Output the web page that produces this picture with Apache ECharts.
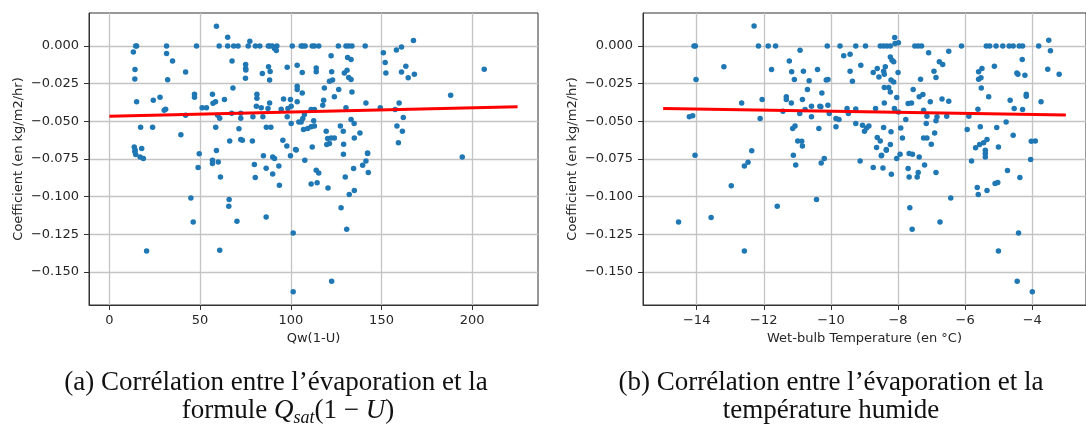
<!DOCTYPE html>
<html><head><meta charset="utf-8">
<script src="https://cdn.jsdelivr.net/npm/echarts@6/dist/echarts.min.js"></script>
<style>html,body{margin:0;padding:0;background:#fff}#c{width:1086px;height:430px}</style>
</head><body><div id="c"></div>
<script>
// (a) Qw(1-U) vs coefficient
const ptsQw = [
[13.2,-0.004],[14.5,0],[15.0,0],[14.1,-0.0157],[14.0,-0.022],[15.0,-0.037],[17.2,-0.054],[23.8,-0.054],[13.7,-0.067],[14.0,-0.070],[17.8,-0.068],
[31.5,0],[31.5,-0.005],[34.8,-0.010],[32.1,-0.0225],[42.0,-0.0174],[27.9,-0.034],[24.2,-0.036],[30.2,-0.0426],[31.0,-0.042],[42.0,-0.046],[39.4,-0.059],
[48.0,0],[46.9,-0.032],[46.9,-0.034],[51.1,-0.041],[53.5,-0.041],
[59.0,0.013],[65.2,0.0058],[60.5,0],[65.2,0],[68.5,0],[70.9,0],[76.5,0],[77.4,0.003],[80.5,0],[82.9,0],
[67.6,-0.010],[75.1,-0.0124],[75.1,-0.015],[75.2,-0.016],[75.0,-0.0215],[68.1,-0.028],[56.8,-0.032],[57.1,-0.038],[58.5,-0.037],[63.4,-0.0355],
[59.7,-0.046],[60.8,-0.048],[67.4,-0.0447],[72.4,-0.0447],[72.4,-0.048],[58.6,-0.054],[71.4,-0.055],[66.3,-0.063],[72.4,-0.062],[73.3,-0.0625],[78.8,-0.063],
[79.1,-0.047],[81.3,-0.0347],[81.3,-0.032],[81.0,-0.040],[83.7,-0.041],[84.6,-0.047],
[87.6,0],[92.3,0],[92.0,-0.003],[87.7,-0.0139],[88.6,-0.017],[88.3,-0.0227],[86.5,-0.054],[89.0,-0.054],
[14.2,-0.069],[14.5,-0.072],[16.9,-0.0736],[18.7,-0.0747],[49.5,-0.0716],[48.9,-0.0807],[56.8,-0.0758],[56.8,-0.078],[59.0,-0.0694],[60.0,-0.077],[61.2,-0.0869],[44.9,-0.1008],[46.2,-0.1167],[20.5,-0.136],[66.0,-0.1019],[65.8,-0.1063],[70.3,-0.1163],[60.8,-0.1355],[79.9,-0.0787],[80.4,-0.0873],[84.9,-0.0729],[86.4,-0.0811],[86.4,-0.1134],[90.0,-0.0736],[91.0,-0.0747],[90.0,-0.085],[93.4,-0.0796],[93.7,-0.0924],
[99.8,-0.0729],[103.0,-0.069],[107.7,-0.0758],[114.0,-0.0824],[115.4,-0.0842],[111.2,-0.0915],[114.5,-0.0908],[120.5,-0.0942],[129.0,-0.0718],[130.0,-0.0869],[127.7,-0.1074],[130.8,-0.1216],[132.2,-0.0985],[135.0,-0.0959],[134.6,-0.0813],[139.6,-0.0791],[141.4,-0.0763],[142.3,-0.0714],[142.7,-0.084],[194.5,-0.0736],[101.3,-0.124],[122.5,-0.156],[101.3,-0.163],
[88.3,0],[89.8,0],[91.0,-0.0017],
[100.8,0],[105.7,0],[106.6,0],[107.9,0],[111.8,0],[113.0,0],[115.4,0],[126.2,0],[130.4,0],[131.9,0],[133.7,0],[141.0,0],
[122.2,-0.0066],[131.3,-0.0077],[133.2,-0.009],[151.0,-0.0046],[158.2,-0.0028],[161.0,-0.0007],[167.6,0.0036],[152.0,-0.011],[152.4,-0.0179],[163.4,-0.0135],[161.0,-0.0174],[164.7,-0.0212],[168.1,-0.0188],[206.6,-0.0155],[188.1,-0.0327],
[84.3,-0.0183],[98.0,-0.0141],[103.5,-0.0128],[106.3,-0.0177],[114.0,-0.0146],[114.0,-0.0172],[122.5,-0.0172],[123.0,-0.0227],[121.3,-0.0234],[129.5,-0.0179],[131.0,-0.0161],[131.9,-0.021],[133.2,-0.0223],
[103.5,-0.0267],[103.5,-0.029],[106.3,-0.0312],[118.5,-0.0279],[126.4,-0.029],[124.0,-0.0338],[133.7,-0.0305],
[96.0,-0.0353],[99.8,-0.0356],[103.5,-0.0371],[118.1,-0.036],[117.6,-0.0393],[141.4,-0.0378],[159.7,-0.0378],[88.3,-0.0378],[87.4,-0.0415],
[94.7,-0.042],[98.4,-0.0415],[100.2,-0.040],[111.2,-0.0422],[113.0,-0.0422],[130.4,-0.0411],[149.3,-0.0411],[157.5,-0.0422],
[98.0,-0.047],[107.5,-0.0455],[106.6,-0.0481],[105.7,-0.0504],[112.6,-0.0497],[100.2,-0.0515],[104.4,-0.0504],[162.0,-0.0475],[133.2,-0.0488],[134.9,-0.0515],
[107.0,-0.0554],[109.3,-0.0548],[111.2,-0.0537],[113.0,-0.0532],[119.5,-0.0566],[127.3,-0.0532],[128.9,-0.0566],[138.1,-0.0577],[135.0,-0.061],[158.5,-0.0532],[161.5,-0.0566],[159.3,-0.0643],
[95.6,-0.0625],[97.8,-0.0663],[102.6,-0.0687],[111.8,-0.067],[120.3,-0.0614],[121.3,-0.0647],[119.8,-0.0654],[122.2,-0.061],[124.0,-0.061],[129.1,-0.0652],[142.3,-0.071]
];
// (b) wet-bulb temperature vs coefficient
const ptsWb = [
[-12.29,0.0131],[-14.08,0],[-14.04,0],[-14.02,-0.0223],[-13.19,-0.0139],[-14.22,-0.047],[-14.12,-0.0464],[-14.05,-0.0725],[-12.66,-0.0378],[-12.05,-0.0355],[-12.11,-0.0481],[-12.36,-0.0696],
[-12.16,0],[-11.87,0],[-11.65,0],[-11.77,-0.0157],[-11.24,-0.0101],[-10.92,-0.0029],[-11.17,-0.0172],[-11.09,-0.0223],[-10.82,-0.0168],[-10.4,-0.0157],[-10.65,-0.0232],[-10.7,-0.0289],[-10.27,-0.0312],
[-11.33,-0.0338],[-11.33,-0.0355],[-11.18,-0.0378],[-10.85,-0.0355],[-10.77,-0.0422],[-10.58,-0.040],[-10.33,-0.040],[-11.43,-0.0433],[-10.93,-0.0448],[-10.58,-0.047],[-10.11,0],[-10.14,-0.0227],
[-10.36,-0.0548],[-11.14,-0.0548],[-11.07,-0.0532],[-10.99,-0.063],[-10.87,-0.0632],[-10.85,-0.0663],[-11.12,-0.0725],[-10.2,-0.0747],
[-12.58,-0.0796],[-12.47,-0.0771],[-12.97,-0.0928],[-14.54,-0.1167],[-13.57,-0.1138],[-12.58,-0.136],[-11.6,-0.1063],[-11.05,-0.0789],[-10.43,-0.1019],[-10.29,-0.0776],
[-9.13,-0.0763],[-8.74,-0.0807],[-8.45,-0.0809],[-8.5,-0.0729],[-8.35,-0.0692],[-8.2,-0.0851],[-8.04,-0.0747],[-7.94,-0.0718],[-7.67,-0.0714],[-7.57,-0.0718],[-7.37,-0.0736],[-7.7,-0.0813],[-7.67,-0.0869],[-7.4,-0.084],[-7.43,-0.0869],[-7.21,-0.0789],[-6.87,-0.084],[-7.65,-0.1074],[-7.58,-0.1216],[-6.75,-0.1167],[-6.43,-0.1008],[-5.81,-0.0763],[-5.4,-0.0692],[-5.4,-0.0714],[-5.4,-0.0736],[-5.64,-0.0939],[-5.61,-0.0985],[-5.35,-0.0959],[-5.11,-0.0912],[-5.03,-0.0906],[-4.74,-0.0826],[-4.37,-0.0873],[-4.05,-0.0753],[-5.01,-0.136],[-4.41,-0.124],[-4.45,-0.156],[-4.0,-0.163],
[-9.73,0],[-9.26,0],[-8.97,0],[-8.53,0],[-8.43,0],[-8.33,0],[-8.23,0],[-8.09,0.0015],[-7.99,0.002],[-8.1,0.0056],[-7.5,0],[-7.4,0],[-7.3,0],[-7.09,-0.0046],[-6.49,-0.0035],[-6.11,0],
[-5.37,0],[-5.27,0],[-5.08,0],[-4.88,0],[-4.69,0],[-4.57,0],[-4.39,0],[-4.29,0],[-3.81,0],[-3.51,0.0038],[-3.46,-0.0033],[-4.3,-0.009],[-3.54,-0.0155],[-3.2,-0.0188],
[-9.62,-0.0066],[-9.43,-0.0055],[-9.11,-0.0128],[-9.43,-0.0168],[-9.36,-0.0234],[-10.09,-0.0223],
[-8.74,-0.0177],[-8.62,-0.015],[-8.57,-0.0206],[-8.43,-0.0168],[-8.38,-0.0139],[-8.41,-0.0188],[-8.23,-0.0073],[-8.18,-0.0095],[-8.13,-0.0106],[-8.0,-0.0177],[-8.21,-0.0227],[-8.13,-0.0239],
[-8.41,-0.0276],[-8.28,-0.0276],[-8.23,-0.0305],[-8.04,-0.0342],[-8.41,-0.0378],[-8.67,-0.0415],[-8.11,-0.0415],[-7.99,-0.0438],
[-7.55,-0.0289],[-7.33,-0.0221],[-7.37,-0.0338],[-7.26,-0.0322],[-7.7,-0.0382],[-7.6,-0.0378],[-7.24,-0.0426],[-7.14,-0.0466],[-7.04,-0.0371],[-6.93,-0.0168],[-6.87,-0.021],[-6.77,-0.0106],[-6.67,-0.0124],[-6.69,-0.0353],[-6.49,-0.0367],[-6.84,-0.047],[-6.87,-0.0497],[-6.55,-0.0466],
[-7.77,-0.0488],[-7.16,-0.0515],[-7.92,-0.0544],[-8.43,-0.0541],[-8.21,-0.057],[-7.87,-0.061],[-7.24,-0.061],[-7.14,-0.061],[-6.91,-0.0577],[-7.01,-0.0652],[-8.23,-0.0654],[-8.35,-0.0687],[-8.62,-0.0608],[-8.53,-0.063],[-8.64,-0.0674],[-8.49,-0.0725],
[-9.06,-0.0526],[-8.94,-0.0544],[-8.87,-0.0532],[-9.0,-0.0566],[-9.26,-0.0515],[-9.52,-0.0415],[-9.48,-0.0448],[-9.26,-0.0418],[-9.85,-0.0481],[-9.76,-0.0488],[-9.85,-0.0537],[-10.09,-0.0393],[-10.05,-0.0448],[-10.3,-0.0404],
[-5.6,-0.0172],[-5.5,-0.015],[-5.6,-0.0221],[-5.53,-0.0212],[-5.13,-0.0135],[-5.52,-0.0279],[-5.3,-0.0338],[-5.62,-0.042],[-5.89,-0.0466],[-5.94,-0.0554],[-5.55,-0.0537],[-5.69,-0.0676],[-5.57,-0.0654],[-5.45,-0.0643],[-5.35,-0.0621],[-5.06,-0.0541],[-5.01,-0.067],[-4.78,-0.0504],[-4.66,-0.036],[-4.54,-0.0415],[-4.29,-0.0422],[-4.18,-0.032],[-4.18,-0.0334],[-4.46,-0.0179],[-4.22,-0.0194],[-4.57,-0.0592],[-4.03,-0.0632],[-3.91,-0.063],[-3.74,-0.0371],[-4.43,-0.0188]
];
// regression lines (endpoints)
const fitQw = [[0,-0.0466],[225,-0.0404]];
const fitWb = [[-15,-0.0415],[-3,-0.0458]];
// ticks
const yTicks = [0,-0.025,-0.05,-0.075,-0.1,-0.125,-0.15];
const xTicksQw = [0,50,100,150,200];
const xTicksWb = [-14,-12,-10,-8,-6,-4];
const xNameQw = 'Qw(1-U)';
const xNameWb = 'Wet-bulb Temperature (en °C)';
const yName = 'Coefficient (en kg/m2/hr)';

const TXT = {fontFamily:'DejaVu Sans', fontSize:13, color:'#262626'};
const minus = v => (v < 0 ? '\u2212' : '') + Math.abs(v);
function xAxisCfg(idx, min, max, ticks, name) {
  return {type:'value', gridIndex:idx, min:min, max:max, name:name, nameLocation:'middle', nameGap:26,
    nameTextStyle:TXT,
    axisLine:{show:true, onZero:false, lineStyle:{color:'#333', width:1}},
    axisTick:{show:true, length:5, customValues:ticks, lineStyle:{color:'#333'}},
    axisLabel:Object.assign({customValues:ticks, margin:9, formatter:minus}, TXT),
    splitLine:{show:true, lineStyle:{color:'#c4c4c4', width:1.3}}};
}
function yAxisCfg(idx) {
  return {type:'value', gridIndex:idx, min:-0.1718, max:0.0218, name:yName, nameLocation:'middle', nameGap:64, nameRotate:90,
    nameTextStyle:TXT,
    axisLine:{show:true, onZero:false, lineStyle:{color:'#333', width:1}},
    axisTick:{show:true, length:5, customValues:yTicks, lineStyle:{color:'#333'}},
    axisLabel:Object.assign({customValues:yTicks, margin:10, formatter:v => (v<0?'\u2212':'') + Math.abs(v).toFixed(3)}, TXT),
    splitLine:{show:true, lineStyle:{color:'#c4c4c4', width:1.3}}};
}
const capFont = 'Liberation Serif';
const capSize = 27;
const capRich = {
  n:{fontFamily:capFont, fontSize:capSize, color:'#111', lineHeight:32},
  i:{fontFamily:capFont, fontSize:capSize, fontStyle:'italic', color:'#111', lineHeight:32},
  s:{fontFamily:capFont, fontSize:18, fontStyle:'italic', color:'#111', lineHeight:32, verticalAlign:'bottom'}
};
function cap(x, y, text) {
  return {type:'text', x:x, y:y, style:{text:text, x:0, y:0, align:'center', verticalAlign:'middle', rich:capRich,
    fontFamily:capFont, fontSize:capSize, fill:'#111'}};
}

const chart = echarts.init(document.getElementById('c'), null, {renderer:'canvas'});
chart.setOption({
  animation:false,
  backgroundColor:'#fff',
  grid:[
    {left:89, top:13, width:449, height:292, show:true, borderColor:'#333', borderWidth:1, backgroundColor:'transparent'},
    {left:643, top:13, width:450, height:292, show:true, borderColor:'#333', borderWidth:1, backgroundColor:'transparent'}
  ],
  xAxis:[xAxisCfg(0,-11.25,236.25,xTicksQw,xNameQw), xAxisCfg(1,-15.6,-2.4,xTicksWb,xNameWb)],
  yAxis:[yAxisCfg(0), yAxisCfg(1)],
  series:[
    {type:'scatter', xAxisIndex:0, yAxisIndex:0, data:ptsQw, symbolSize:5.5, itemStyle:{color:'#1f77b4', opacity:1}, z:2},
    {type:'line', xAxisIndex:0, yAxisIndex:0, data:fitQw, showSymbol:false, lineStyle:{color:'#ff0000', width:3}, z:3},
    {type:'scatter', xAxisIndex:1, yAxisIndex:1, data:ptsWb, symbolSize:5.5, itemStyle:{color:'#1f77b4', opacity:1}, z:2},
    {type:'line', xAxisIndex:1, yAxisIndex:1, data:fitWb, showSymbol:false, lineStyle:{color:'#ff0000', width:3}, z:3}
  ],
  graphic:[
    cap(276, 383, '{n|(a) Corrélation entre l’évaporation et la}'),
    cap(288, 411, '{n|formule }{i|Q}{s|sat}{n|(1 − }{i|U}{n|)}'),
    cap(831, 383, '{n|(b) Corrélation entre l’évaporation et la}'),
    cap(831, 411, '{n|température humide}')
  ]
});
</script></body></html>
